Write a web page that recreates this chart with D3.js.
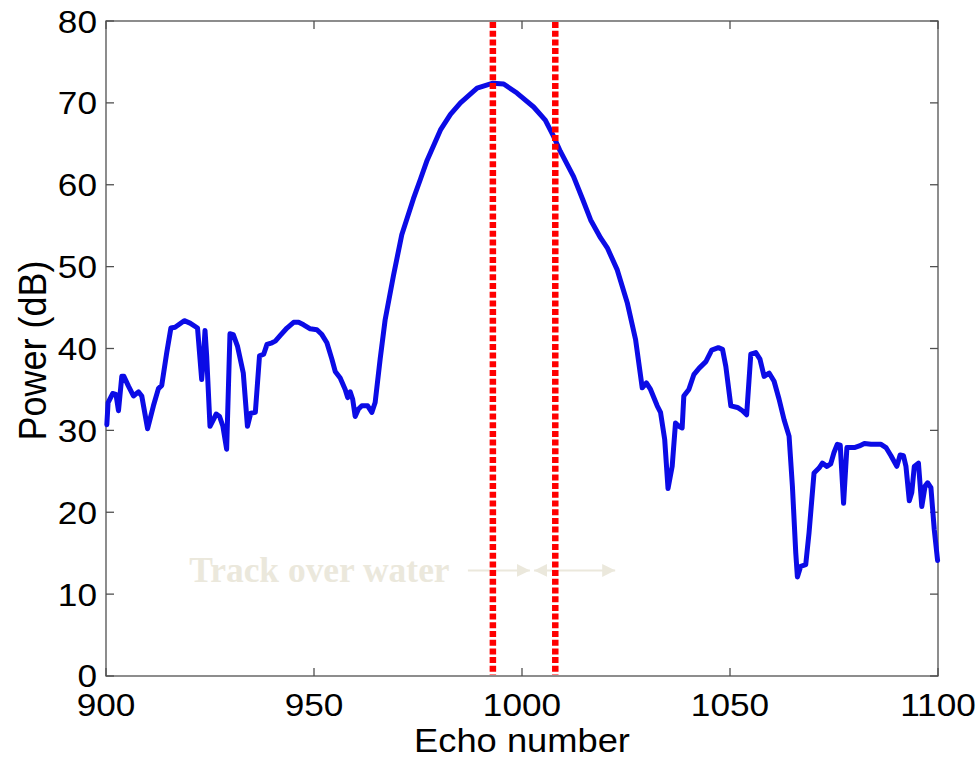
<!DOCTYPE html>
<html>
<head>
<meta charset="utf-8">
<script src="https://cdn.jsdelivr.net/npm/d3@7"></script>
<style>
  html, body { margin: 0; padding: 0; background: #ffffff; }
  svg { display: block; }
</style>
</head>
<body>
<svg id="chart" width="979" height="761"></svg>
<script>
// Echo numbers and received power (dB) along the track
const echoNumber = [
  900.2, 900.5, 901.6, 902.4, 903.0, 903.8, 904.3, 905.4, 906.6, 907.8,
  908.6, 910.0, 911.4, 912.6, 913.4, 914.6, 915.6, 916.6, 918.8, 920.2,
  922.0, 923.0, 923.4, 923.8, 924.2, 925.0, 926.5, 927.3, 928.1, 929.0,
  929.8, 930.6, 931.6, 933.0, 934.0, 934.8, 935.9, 936.9, 937.9, 938.7,
  939.9, 940.7, 941.9, 943.5, 945.1, 946.3, 947.5, 949.1, 950.7, 951.9,
  953.1, 954.3, 955.1, 956.3, 957.5, 958.1, 958.7, 959.3, 959.9, 960.7,
  961.5, 962.9, 963.9, 964.7, 965.9, 967.1, 969.1, 971.1, 973.9, 975.6,
  977.2, 980.4, 982.8, 985.2, 989.2, 993.0, 995.6, 998.8, 1002.8, 1005.6,
  1007.6, 1009.2, 1012.4, 1014.6, 1016.5, 1018.9, 1020.5, 1022.9, 1025.3, 1027.3,
  1028.9, 1029.9, 1030.9, 1032.5, 1033.3, 1034.3, 1035.1, 1036.1, 1036.9, 1037.7,
  1038.5, 1038.9, 1040.1, 1041.3, 1042.6, 1044.2, 1045.6, 1047.2, 1048.2, 1049.0,
  1050.2, 1051.8, 1053.0, 1054.0, 1055.0, 1056.2, 1057.2, 1058.2, 1059.4, 1060.6,
  1061.8, 1063.0, 1064.2, 1065.0, 1065.8, 1066.2, 1067.0, 1068.2, 1069.0, 1070.2,
  1071.4, 1072.2, 1073.3, 1074.2, 1075.0, 1075.8, 1076.5, 1077.3, 1078.1, 1079.9,
  1081.1, 1082.3, 1083.9, 1086.3, 1087.5, 1088.7, 1090.1, 1090.9, 1091.7, 1092.3,
  1093.1, 1093.7, 1094.3, 1095.3, 1096.1, 1096.9, 1097.5, 1098.3, 1099.1, 1099.9
];
const powerDb = [
  30.7, 33.4, 34.5, 34.4, 32.4, 36.6, 36.6, 35.4, 34.2, 34.7,
  34.2, 30.2, 33.0, 35.1, 35.5, 39.5, 42.5, 42.6, 43.4, 43.1,
  42.5, 36.2, 38.7, 42.2, 39.1, 30.5, 32.0, 31.7, 30.5, 27.7,
  41.8, 41.7, 40.3, 37.0, 30.5, 32.1, 32.2, 39.1, 39.3, 40.5,
  40.7, 40.9, 41.6, 42.5, 43.2, 43.2, 42.9, 42.4, 42.3, 41.7,
  40.7, 38.7, 37.2, 36.4, 35.0, 34.0, 34.7, 33.8, 31.7, 32.6,
  33.0, 33.0, 32.2, 33.4, 38.7, 43.5, 48.9, 53.9, 58.3, 60.7,
  63.0, 66.7, 68.6, 70.0, 71.8, 72.4, 72.3, 71.2, 69.5, 67.9,
  65.9, 64.1, 61.0, 58.2, 55.7, 53.5, 52.3, 49.6, 45.6, 41.1,
  35.2, 35.8, 35.0, 33.0, 32.2, 28.9, 22.9, 25.6, 30.9, 30.5,
  30.3, 34.2, 35.0, 36.8, 37.6, 38.4, 39.8, 40.1, 39.9, 37.8,
  33.0, 32.8, 32.4, 31.9, 39.3, 39.5, 38.7, 36.6, 37.0, 36.0,
  33.8, 31.3, 29.3, 23.2, 15.1, 12.1, 13.4, 13.6, 17.5, 24.8,
  25.4, 26.0, 25.6, 25.9, 27.3, 28.3, 28.2, 21.1, 27.9, 27.9,
  28.1, 28.4, 28.3, 28.3, 27.9, 26.9, 25.6, 27.0, 26.9, 25.6,
  21.4, 22.4, 25.6, 26.0, 20.7, 23.2, 23.6, 23.0, 17.9, 14.1
];

// Track boundaries marked by the dotted red lines
const boundaryEchoes = [993, 1008];

// Axis ticks
const xTicks = [900, 950, 1000, 1050, 1100];
const yTicks = [0, 10, 20, 30, 40, 50, 60, 70, 80];

// Annotation
const annotationText = "Track over water";
const annotationLevel = 12.9;      // dB
const textStartEcho = 920.0;
const textEndEcho = 982.6;
const arrowOne = [987.0, 1001.9];  // single-headed, pointing right
const arrowTwo = [1002.9, 1022.4]; // double-headed

const svg = d3.select("#chart");
const margin = { left: 106, right: 41, top: 21, bottom: 85 };
const W = 979, H = 761;

const x = d3.scaleLinear().domain([900, 1100]).range([margin.left, W - margin.right]);
const y = d3.scaleLinear().domain([0, 80]).range([H - margin.bottom, margin.top]);

const axisColor = "#505050";
const tickFont = "'Liberation Sans', Arial, Helvetica, sans-serif";
const xStretch = 1.1;

// Frame
const x0 = x.range()[0], x1 = x.range()[1], y0 = y.range()[0], y1 = y.range()[1];
svg.append("rect")
  .attr("x", x0).attr("y", y1).attr("width", x1 - x0).attr("height", y0 - y1)
  .attr("fill", "none").attr("stroke", axisColor).attr("stroke-width", 1.3);

// Inward ticks on all four sides
const tickLen = 8;
const tickG = svg.append("g").attr("stroke", axisColor).attr("stroke-width", 1.3);
xTicks.forEach(v => {
  tickG.append("line").attr("x1", x(v)).attr("x2", x(v)).attr("y1", y0).attr("y2", y0 - tickLen);
  tickG.append("line").attr("x1", x(v)).attr("x2", x(v)).attr("y1", y1).attr("y2", y1 + tickLen);
});
yTicks.forEach(v => {
  tickG.append("line").attr("x1", x0).attr("x2", x0 + tickLen).attr("y1", y(v)).attr("y2", y(v));
  tickG.append("line").attr("x1", x1).attr("x2", x1 - tickLen).attr("y1", y(v)).attr("y2", y(v));
});

// Tick labels
const labelG = svg.append("g").attr("font-family", tickFont).attr("font-size", 32).attr("fill", "#000");
xTicks.forEach(v => {
  labelG.append("text")
    .attr("transform", `translate(${x(v)},${y0 + 40}) scale(${xStretch},1)`)
    .attr("text-anchor", "middle")
    .text(v);
});
yTicks.forEach(v => {
  labelG.append("text")
    .attr("transform", `translate(${x0 - 9},${y(v) + 11.5 - (v === 0 ? 1 : 0)}) scale(${xStretch},1)`)
    .attr("text-anchor", "end")
    .text(v);
});

// Axis titles
svg.append("text")
  .attr("transform", `translate(${(x0 + x1) / 2},${H - 9}) scale(${xStretch},1)`)
  .attr("text-anchor", "middle")
  .attr("font-family", tickFont).attr("font-size", 33)
  .text("Echo number");
svg.append("text")
  .attr("transform", `translate(46,${(y0 + y1) / 2 + 2}) scale(${xStretch},1) rotate(-90)`)
  .attr("text-anchor", "middle")
  .attr("font-family", tickFont).attr("font-size", 36)
  .text("Power (dB)");

// Annotation: faint label with arrows
const annColor = "#ebe8dc";
const annY = y(annotationLevel);
svg.append("text")
  .attr("x", x(textStartEcho)).attr("y", annY + 12)
  .attr("textLength", x(textEndEcho) - x(textStartEcho))
  .attr("lengthAdjust", "spacingAndGlyphs")
  .attr("font-family", "'Liberation Serif', 'Times New Roman', serif")
  .attr("font-weight", "bold").attr("font-size", 36)
  .attr("fill", annColor)
  .text(annotationText);

const defs = svg.append("defs");
defs.append("marker")
  .attr("id", "head").attr("viewBox", "0 0 10 10")
  .attr("refX", 10).attr("refY", 5)
  .attr("markerWidth", 13).attr("markerHeight", 15)
  .attr("markerUnits", "userSpaceOnUse")
  .attr("orient", "auto-start-reverse")
  .append("path").attr("d", "M0,0 L10,5 L0,10 Z").attr("fill", annColor);

svg.append("line")
  .attr("x1", x(arrowOne[0])).attr("x2", x(arrowOne[1]))
  .attr("y1", annY).attr("y2", annY)
  .attr("stroke", annColor).attr("stroke-width", 2)
  .attr("marker-end", "url(#head)");
svg.append("line")
  .attr("x1", x(arrowTwo[0])).attr("x2", x(arrowTwo[1]))
  .attr("y1", annY).attr("y2", annY)
  .attr("stroke", annColor).attr("stroke-width", 2)
  .attr("marker-start", "url(#head)")
  .attr("marker-end", "url(#head)");

// Power trace
const points = echoNumber.map((e, i) => [e, powerDb[i]]);
const line = d3.line().x(d => x(d[0])).y(d => y(d[1]));
svg.append("path")
  .datum(points)
  .attr("d", line)
  .attr("fill", "none")
  .attr("stroke", "#0b0be6")
  .attr("stroke-width", 5)
  .attr("stroke-linejoin", "round")
  .attr("stroke-linecap", "round");

// Track boundary markers
svg.append("g").selectAll("line")
  .data(boundaryEchoes)
  .join("line")
  .attr("x1", d => x(d)).attr("x2", d => x(d))
  .attr("y1", y1 + 1).attr("y2", y0 - 1)
  .attr("stroke", "#ff0000")
  .attr("stroke-width", 6.5)
  .attr("stroke-dasharray", "6,2.7");
</script>
</body>
</html>
